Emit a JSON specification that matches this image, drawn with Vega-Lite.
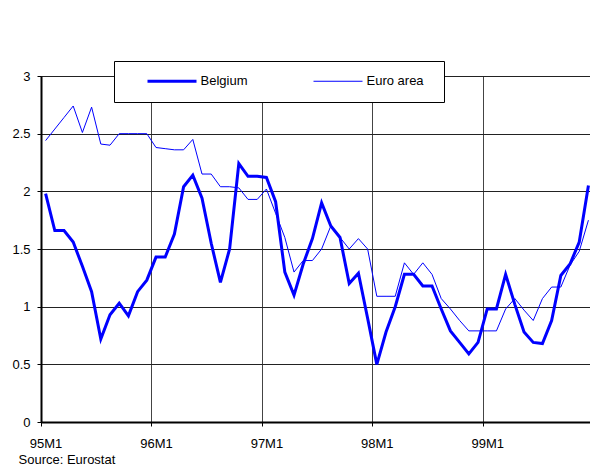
{
  "$schema": "https://vega.github.io/schema/vega-lite/v6.json",
  "width": 549,
  "height": 346,
  "autosize": {"type": "none"},
  "padding": {"left": 41, "top": 76, "right": 0, "bottom": 43},
  "background": "white",
  "config": {
    "view": {"stroke": "black", "strokeWidth": 1},
    "font": "Liberation Sans",
    "axis": {"labelFont": "Liberation Sans", "labelFontSize": 13, "labelColor": "black", "titleFont": "Liberation Sans"},
    "legend": {
      "orient": "none",
      "direction": "horizontal",
      "legendX": 73,
      "legendY": -15,
      "fillColor": "white",
      "strokeColor": "black",
      "padding": 13.5,
      "symbolType": "M-4.9,0H4.9",
      "symbolSize": 100,
      "symbolOffset": 38,
      "labelOffset": 22,
      "labelFontSize": 13,
      "labelColor": "black",
      "labelFont": "Liberation Sans",
      "labelLimit": 400,
      "columnPadding": 46,
      "titleOrient": "right",
      "titlePadding": 7,
      "titleFontSize": 11,
      "titleBaseline": "middle"
    }
  },
  "data": {
    "values": [
      {"m": 0, "series": "Belgium", "v": 1.98},
      {"m": 1, "series": "Belgium", "v": 1.66},
      {"m": 2, "series": "Belgium", "v": 1.66},
      {"m": 3, "series": "Belgium", "v": 1.56},
      {"m": 4, "series": "Belgium", "v": 1.35},
      {"m": 5, "series": "Belgium", "v": 1.13},
      {"m": 6, "series": "Belgium", "v": 0.72},
      {"m": 7, "series": "Belgium", "v": 0.93},
      {"m": 8, "series": "Belgium", "v": 1.03},
      {"m": 9, "series": "Belgium", "v": 0.92},
      {"m": 10, "series": "Belgium", "v": 1.13},
      {"m": 11, "series": "Belgium", "v": 1.23},
      {"m": 12, "series": "Belgium", "v": 1.43},
      {"m": 13, "series": "Belgium", "v": 1.43},
      {"m": 14, "series": "Belgium", "v": 1.63},
      {"m": 15, "series": "Belgium", "v": 2.04},
      {"m": 16, "series": "Belgium", "v": 2.14},
      {"m": 17, "series": "Belgium", "v": 1.94},
      {"m": 18, "series": "Belgium", "v": 1.55},
      {"m": 19, "series": "Belgium", "v": 1.21},
      {"m": 20, "series": "Belgium", "v": 1.5},
      {"m": 21, "series": "Belgium", "v": 2.24},
      {"m": 22, "series": "Belgium", "v": 2.13},
      {"m": 23, "series": "Belgium", "v": 2.13},
      {"m": 24, "series": "Belgium", "v": 2.12},
      {"m": 25, "series": "Belgium", "v": 1.91},
      {"m": 26, "series": "Belgium", "v": 1.3},
      {"m": 27, "series": "Belgium", "v": 1.1},
      {"m": 28, "series": "Belgium", "v": 1.37},
      {"m": 29, "series": "Belgium", "v": 1.59},
      {"m": 30, "series": "Belgium", "v": 1.9},
      {"m": 31, "series": "Belgium", "v": 1.7},
      {"m": 32, "series": "Belgium", "v": 1.6},
      {"m": 33, "series": "Belgium", "v": 1.2},
      {"m": 34, "series": "Belgium", "v": 1.29},
      {"m": 35, "series": "Belgium", "v": 0.9},
      {"m": 36, "series": "Belgium", "v": 0.5},
      {"m": 37, "series": "Belgium", "v": 0.78},
      {"m": 38, "series": "Belgium", "v": 1.0},
      {"m": 39, "series": "Belgium", "v": 1.28},
      {"m": 40, "series": "Belgium", "v": 1.28},
      {"m": 41, "series": "Belgium", "v": 1.18},
      {"m": 42, "series": "Belgium", "v": 1.18},
      {"m": 43, "series": "Belgium", "v": 0.98},
      {"m": 44, "series": "Belgium", "v": 0.79},
      {"m": 45, "series": "Belgium", "v": 0.69},
      {"m": 46, "series": "Belgium", "v": 0.59},
      {"m": 47, "series": "Belgium", "v": 0.69},
      {"m": 48, "series": "Belgium", "v": 0.98},
      {"m": 49, "series": "Belgium", "v": 0.98},
      {"m": 50, "series": "Belgium", "v": 1.28},
      {"m": 51, "series": "Belgium", "v": 1.02},
      {"m": 52, "series": "Belgium", "v": 0.78},
      {"m": 53, "series": "Belgium", "v": 0.69},
      {"m": 54, "series": "Belgium", "v": 0.68},
      {"m": 55, "series": "Belgium", "v": 0.88},
      {"m": 56, "series": "Belgium", "v": 1.27},
      {"m": 57, "series": "Belgium", "v": 1.37},
      {"m": 58, "series": "Belgium", "v": 1.56},
      {"m": 59, "series": "Belgium", "v": 2.05},
      {"m": 0, "series": "Euro area", "v": 2.44},
      {"m": 1, "series": "Euro area", "v": 2.54},
      {"m": 2, "series": "Euro area", "v": 2.64},
      {"m": 3, "series": "Euro area", "v": 2.74},
      {"m": 4, "series": "Euro area", "v": 2.51},
      {"m": 5, "series": "Euro area", "v": 2.73},
      {"m": 6, "series": "Euro area", "v": 2.41},
      {"m": 7, "series": "Euro area", "v": 2.4},
      {"m": 8, "series": "Euro area", "v": 2.5},
      {"m": 9, "series": "Euro area", "v": 2.5},
      {"m": 10, "series": "Euro area", "v": 2.5},
      {"m": 11, "series": "Euro area", "v": 2.5},
      {"m": 12, "series": "Euro area", "v": 2.38},
      {"m": 13, "series": "Euro area", "v": 2.37},
      {"m": 14, "series": "Euro area", "v": 2.36},
      {"m": 15, "series": "Euro area", "v": 2.36},
      {"m": 16, "series": "Euro area", "v": 2.45},
      {"m": 17, "series": "Euro area", "v": 2.15},
      {"m": 18, "series": "Euro area", "v": 2.15},
      {"m": 19, "series": "Euro area", "v": 2.04},
      {"m": 20, "series": "Euro area", "v": 2.04},
      {"m": 21, "series": "Euro area", "v": 2.03},
      {"m": 22, "series": "Euro area", "v": 1.93},
      {"m": 23, "series": "Euro area", "v": 1.93},
      {"m": 24, "series": "Euro area", "v": 2.02},
      {"m": 25, "series": "Euro area", "v": 1.81},
      {"m": 26, "series": "Euro area", "v": 1.6},
      {"m": 27, "series": "Euro area", "v": 1.3},
      {"m": 28, "series": "Euro area", "v": 1.4},
      {"m": 29, "series": "Euro area", "v": 1.4},
      {"m": 30, "series": "Euro area", "v": 1.5},
      {"m": 31, "series": "Euro area", "v": 1.7},
      {"m": 32, "series": "Euro area", "v": 1.6},
      {"m": 33, "series": "Euro area", "v": 1.5},
      {"m": 34, "series": "Euro area", "v": 1.59},
      {"m": 35, "series": "Euro area", "v": 1.5},
      {"m": 36, "series": "Euro area", "v": 1.09},
      {"m": 37, "series": "Euro area", "v": 1.09},
      {"m": 38, "series": "Euro area", "v": 1.09},
      {"m": 39, "series": "Euro area", "v": 1.38},
      {"m": 40, "series": "Euro area", "v": 1.28},
      {"m": 41, "series": "Euro area", "v": 1.38},
      {"m": 42, "series": "Euro area", "v": 1.28},
      {"m": 43, "series": "Euro area", "v": 1.07},
      {"m": 44, "series": "Euro area", "v": 0.98},
      {"m": 45, "series": "Euro area", "v": 0.88},
      {"m": 46, "series": "Euro area", "v": 0.79},
      {"m": 47, "series": "Euro area", "v": 0.79},
      {"m": 48, "series": "Euro area", "v": 0.79},
      {"m": 49, "series": "Euro area", "v": 0.79},
      {"m": 50, "series": "Euro area", "v": 0.98},
      {"m": 51, "series": "Euro area", "v": 1.07},
      {"m": 52, "series": "Euro area", "v": 0.97},
      {"m": 53, "series": "Euro area", "v": 0.88},
      {"m": 54, "series": "Euro area", "v": 1.07},
      {"m": 55, "series": "Euro area", "v": 1.17},
      {"m": 56, "series": "Euro area", "v": 1.17},
      {"m": 57, "series": "Euro area", "v": 1.36},
      {"m": 58, "series": "Euro area", "v": 1.48},
      {"m": 59, "series": "Euro area", "v": 1.75}
    ]
  },
  "mark": {"type": "line", "strokeJoin": "miter"},
  "encoding": {
    "x": {
      "field": "m",
      "type": "quantitative",
      "scale": {"domain": [-0.5, 59.17], "nice": false, "zero": false},
      "axis": {
        "values": [-0.5, 11.5, 23.5, 35.5, 47.5],
        "labelExpr": "(95 + (datum.value + 0.5) / 12) + 'M1'",
        "labelOffset": 4.6,
        "labelPadding": 11,
        "tickSize": 4,
        "tickColor": "black",
        "domainColor": "black",
        "domainWidth": 2,
        "grid": true,
        "gridColor": "#444444",
        "gridWidth": 1,
        "gridOpacity": 1,
        "labelFlush": false,
        "labelOverlap": false,
        "title": "Source: Eurostat",
        "titleFontSize": 13,
        "titleFontWeight": "normal",
        "titleColor": "black",
        "titleAnchor": "start",
        "titleAlign": "left",
        "titleBaseline": "alphabetic",
        "titleX": -23,
        "titleY": 41
      }
    },
    "y": {
      "field": "v",
      "type": "quantitative",
      "scale": {"domain": [0, 3], "nice": false},
      "axis": {
        "values": [0, 0.5, 1, 1.5, 2, 2.5, 3],
        "labelExpr": "'' + datum.value",
        "tickSize": 4,
        "tickColor": "black",
        "labelPadding": 7,
        "domainColor": "black",
        "domainWidth": 2,
        "grid": true,
        "gridColor": "#222222",
        "gridWidth": 1,
        "gridOpacity": 1,
        "title": null
      }
    },
    "color": {
      "field": "series",
      "type": "nominal",
      "scale": {"range": ["#0000FF", "#0000FF"]},
      "legend": {"title": "\u00a0"}
    },
    "strokeWidth": {
      "field": "series",
      "type": "nominal",
      "scale": {"range": [3, 1]},
      "legend": {"title": "\u00a0"}
    }
  }
}
